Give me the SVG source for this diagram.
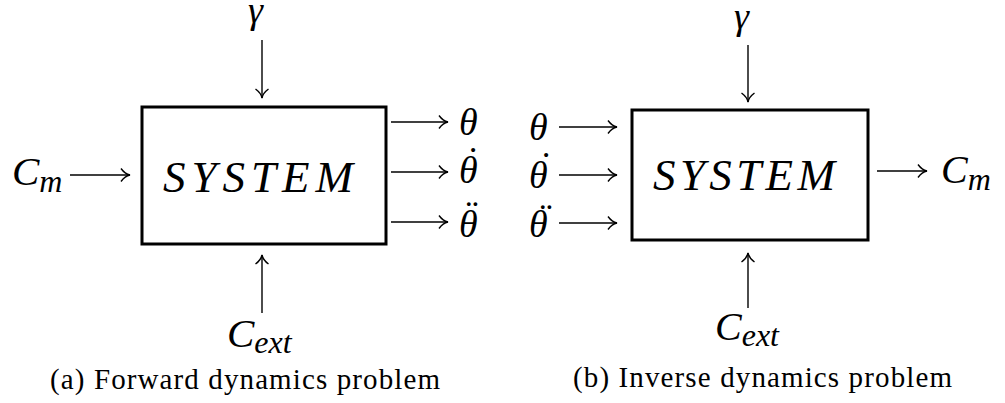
<svg xmlns="http://www.w3.org/2000/svg" width="1005" height="403" viewBox="0 0 1005 403">
<style>
.box{fill:#fff;stroke:#000;stroke-width:3}
.ln{stroke:#000;stroke-width:1.4;fill:none}
</style>
<defs>
<marker id="ah" markerWidth="14" markerHeight="16" refX="12" refY="8" orient="auto" markerUnits="userSpaceOnUse">
<path d="M3,1.5 Q7,7 12,8 Q7,9 3,14.5" fill="none" stroke="#000" stroke-width="1.4"/>
</marker>
</defs>
<rect width="1005" height="403" fill="#fff"/>
<g id="sysA">
<rect class="box" x="142" y="107" width="244" height="137"/>
<text font-family="Liberation Serif" font-style="italic" font-size="45" x="163" y="192" textLength="190" lengthAdjust="spacing">SYSTEM</text>
</g>
<g id="sysB">
<rect class="box" x="632" y="110" width="236" height="130"/>
<text font-family="Liberation Serif" font-style="italic" font-size="45" x="653" y="190" textLength="182" lengthAdjust="spacing">SYSTEM</text>
</g>
<g id="labelsA">
<text font-family="Liberation Serif" font-style="italic" font-size="38" x="248" y="23">γ</text>
<text font-family="Liberation Serif" font-style="italic" font-size="41" x="12" y="185">C<tspan font-size="32" dy="7">m</tspan></text>
<text font-family="Liberation Serif" font-style="italic" font-size="38" x="459" y="135">θ</text>
<text font-family="Liberation Serif" font-style="italic" font-size="38" x="459" y="183">θ</text>
<text font-family="Liberation Serif" font-size="38" text-anchor="middle" x="473" y="173">˙</text>
<text font-family="Liberation Serif" font-style="italic" font-size="38" x="459" y="237">θ</text>
<text font-family="Liberation Serif" font-size="38" text-anchor="middle" x="472" y="226">¨</text>
<text font-family="Liberation Serif" font-style="italic" font-size="41" x="227" y="347">C<tspan font-size="32" dy="6">ext</tspan></text>
</g>
<g id="labelsB">
<text font-family="Liberation Serif" font-style="italic" font-size="38" x="734" y="29">γ</text>
<text font-family="Liberation Serif" font-style="italic" font-size="38" x="529" y="140">θ</text>
<text font-family="Liberation Serif" font-style="italic" font-size="38" x="529" y="188">θ</text>
<text font-family="Liberation Serif" font-size="38" text-anchor="middle" x="546" y="178">˙</text>
<text font-family="Liberation Serif" font-style="italic" font-size="38" x="529" y="237">θ</text>
<text font-family="Liberation Serif" font-size="38" text-anchor="middle" x="546" y="229">¨</text>
<text font-family="Liberation Serif" font-style="italic" font-size="40" x="941" y="183">C<tspan font-size="32" dy="7">m</tspan></text>
<text font-family="Liberation Serif" font-style="italic" font-size="40" x="715" y="340">C<tspan font-size="32" dy="6">ext</tspan></text>
</g>
<g id="captions">
<text font-family="Liberation Serif" font-size="29" x="50" y="389" textLength="390" lengthAdjust="spacing">(a) Forward dynamics problem</text>
<text font-family="Liberation Serif" font-size="29" x="573" y="387" textLength="379" lengthAdjust="spacing">(b) Inverse dynamics problem</text>
</g>
<g id="connectors">
<line class="ln" x1="262" y1="40" x2="262" y2="98" marker-end="url(#ah)"/>
<line class="ln" x1="262" y1="313" x2="262" y2="255" marker-end="url(#ah)"/>
<line class="ln" x1="70" y1="175" x2="130" y2="175" marker-end="url(#ah)"/>
<line class="ln" x1="391" y1="122" x2="448" y2="122" marker-end="url(#ah)"/>
<line class="ln" x1="391" y1="172" x2="448" y2="172" marker-end="url(#ah)"/>
<line class="ln" x1="391" y1="222" x2="448" y2="222" marker-end="url(#ah)"/>
<line class="ln" x1="748" y1="45" x2="748" y2="102" marker-end="url(#ah)"/>
<line class="ln" x1="748" y1="308" x2="748" y2="253" marker-end="url(#ah)"/>
<line class="ln" x1="559" y1="127" x2="617" y2="127" marker-end="url(#ah)"/>
<line class="ln" x1="559" y1="175" x2="617" y2="175" marker-end="url(#ah)"/>
<line class="ln" x1="559" y1="223" x2="617" y2="223" marker-end="url(#ah)"/>
<line class="ln" x1="877" y1="171" x2="927" y2="171" marker-end="url(#ah)"/>
</g>
</svg>
